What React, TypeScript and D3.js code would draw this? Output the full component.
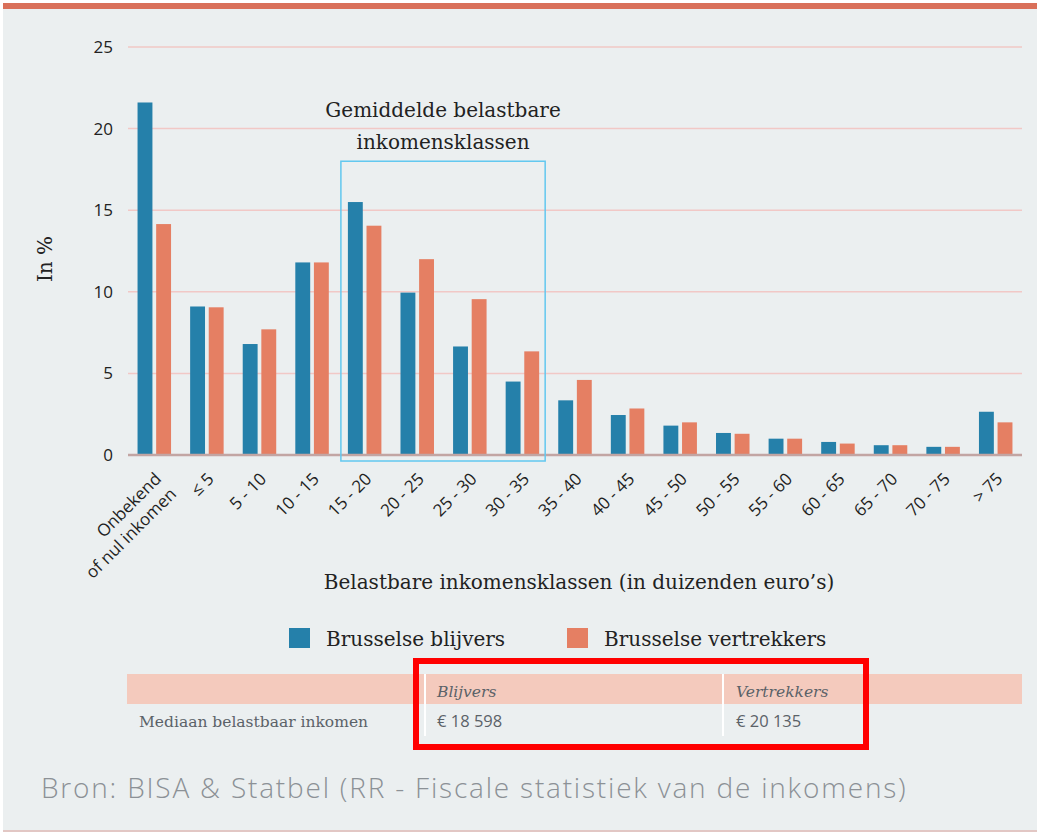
import * as d3 from "d3";
import React from "react";

// income classes (in thousands of euro)
const categories = [
  "Onbekend|of nul inkomen",
  "≤ 5",
  "5 - 10",
  "10 - 15",
  "15 - 20",
  "20 - 25",
  "25 - 30",
  "30 - 35",
  "35 - 40",
  "40 - 45",
  "45 - 50",
  "50 - 55",
  "55 - 60",
  "60 - 65",
  "65 - 70",
  "70 - 75",
  "> 75",
];

// share in %
const blijvers = [21.6, 9.1, 6.8, 11.8, 15.5, 9.95, 6.65, 4.5, 3.35, 2.45, 1.8, 1.35, 1.0, 0.8, 0.6, 0.5, 2.65];
const vertrekkers = [14.15, 9.05, 7.7, 11.8, 14.05, 12.0, 9.55, 6.35, 4.6, 2.85, 2.0, 1.3, 1.0, 0.7, 0.6, 0.5, 2.0];

const series = ["Brusselse blijvers", "Brusselse vertrekkers"];
const yTicks = [0, 5, 10, 15, 20, 25];

// highlighted classes
const highlightFrom = "15 - 20";
const highlightTo = "30 - 35";
const highlightTop = 18;

const tableHeads = ["Blijvers", "Vertrekkers"];
const tableRowLabel = "Mediaan belastbaar inkomen";
const tableValues = ["€ 18 598", "€ 20 135"];

const sourceText = "Bron: BISA & Statbel (RR - Fiscale statistiek van de inkomens)";

const W = 1037;
const H = 832;
const BLUE = "#2580aa";
const ORANGE = "#e57f63";
const SERIF = "'DejaVu Serif', serif";
const SANS = "'Open Sans', sans-serif";

const App = (): React.ReactElement => {
  const plot = { left: 128, right: 1022, top: 47, bottom: 455 };

  const x = d3
    .scaleBand<string>()
    .domain(categories)
    .range([plot.left, plot.right])
    .paddingInner(0.363)
    .paddingOuter(0.1815);
  const xs = d3
    .scaleBand<string>()
    .domain(series)
    .range([0, x.bandwidth()])
    .paddingInner(0.2);
  const y = d3.scaleLinear().domain([0, 25]).range([plot.bottom, plot.top]);

  const colors = [BLUE, ORANGE];
  const values = [blijvers, vertrekkers];

  // box around the middle classes
  const hx0 = (x(highlightFrom) as number) - 7;
  const hx1 = (x(highlightTo) as number) + x.bandwidth() + 6;
  const hcx = (hx0 + hx1) / 2;

  return (
    <svg
      width={W}
      height={H}
      style={{ position: "absolute", left: 0, top: 0 }}
    >
      <rect x={3} y={0} width={W - 3} height={H} fill="#ebeff0" />
      <rect x={0} y={0} width={W} height={3} fill="#ffffff" />
      <rect x={3} y={3} width={W - 3} height={6} fill="#d9705a" />
      <line x1={3} x2={W} y1={H - 1} y2={H - 1} stroke="#e2c7c4" strokeWidth={2} />

      {/* grid */}
      {yTicks.map((t) => (
        <g key={t}>
          {t > 0 && (
            <line
              x1={plot.left}
              x2={plot.right}
              y1={y(t)}
              y2={y(t)}
              stroke="#f1c8c6"
              strokeWidth={1.5}
            />
          )}
          <text
            x={113}
            y={y(t)}
            dy="0.35em"
            textAnchor="end"
            fontFamily={SANS}
            fontWeight={500}
            fontSize={17}
            fill="#222"
          >
            {t}
          </text>
        </g>
      ))}

      <text
        transform={`translate(52, ${(plot.top + plot.bottom) / 2 + 8}) rotate(-90)`}
        textAnchor="middle"
        fontFamily={SERIF}
        fontSize={20}
        fill="#222"
      >
        In %
      </text>

      {/* bars */}
      {categories.map((c, i) => (
        <g key={c} transform={`translate(${x(c)}, 0)`}>
          {series.map((s, k) => (
            <rect
              key={s}
              x={xs(s)}
              y={y(values[k][i])}
              width={xs.bandwidth()}
              height={plot.bottom - y(values[k][i])}
              fill={colors[k]}
            />
          ))}
        </g>
      ))}

      <line
        x1={plot.left}
        x2={plot.right}
        y1={plot.bottom}
        y2={plot.bottom}
        stroke="#c2a5a3"
        strokeWidth={2.5}
      />

      {/* highlight box */}
      <rect
        x={hx0}
        y={y(highlightTop)}
        width={hx1 - hx0}
        height={plot.bottom + 6 - y(highlightTop)}
        fill="none"
        stroke="#62c8ef"
        strokeWidth={1.5}
      />
      <text textAnchor="middle" fontFamily={SERIF} fontSize={20} fill="#222">
        <tspan x={hcx} y={117}>
          Gemiddelde belastbare
        </tspan>
        <tspan x={hcx} y={149}>
          inkomensklassen
        </tspan>
      </text>

      {/* x tick labels */}
      {categories.map((c) => {
        const cx = (x(c) as number) + x.bandwidth() / 2;
        const lines = c.split("|");
        return (
          <text
            key={c}
            transform={`translate(${cx + 8}, 480) rotate(-45)`}
            textAnchor="end"
            fontFamily={SANS}
            fontWeight={500}
            fontSize={17}
            fill="#1f1f1f"
          >
            {lines.map((l, j) => (
              <tspan key={l} x={0} dy={j === 0 ? 0 : "1.25em"}>
                {l}
              </tspan>
            ))}
          </text>
        );
      })}

      <text
        x={579}
        y={589}
        textAnchor="middle"
        fontFamily={SERIF}
        fontSize={20}
        fill="#222"
      >
        Belastbare inkomensklassen (in duizenden euro’s)
      </text>

      {/* legend */}
      {series.map((s, k) => {
        const lx = k === 0 ? 289 : 567;
        return (
          <g key={s}>
            <rect x={lx} y={628} width={21} height={20} fill={colors[k]} />
            <text
              x={lx + 37}
              y={646}
              fontFamily={SERIF}
              fontSize={20}
              fill="#222"
            >
              {s}
            </text>
          </g>
        );
      })}

      {/* median table */}
      <rect x={127} y={674} width={895} height={30} fill="#f4cabd" />
      {[425, 723].map((sx) => (
        <line key={sx} x1={sx} x2={sx} y1={674} y2={736} stroke="#ffffff" strokeWidth={2} />
      ))}
      {tableHeads.map((h, k) => (
        <text
          key={h}
          x={k === 0 ? 437 : 736}
          y={697}
          fontFamily={SERIF}
          fontStyle="italic"
          fontSize={15.5}
          fill="#5b6268"
        >
          {h}
        </text>
      ))}
      <text x={139} y={727} fontFamily={SERIF} fontSize={15.5} fill="#5b6268">
        {tableRowLabel}
      </text>
      {tableValues.map((v, k) => (
        <text
          key={v}
          x={k === 0 ? 437 : 736}
          y={727}
          fontFamily={SANS}
          fontSize={16.5}
          fill="#5b6268"
        >
          {v}
        </text>
      ))}
      <rect
        x={416}
        y={661}
        width={450}
        height={86}
        fill="none"
        stroke="#ff0000"
        strokeWidth={6}
      />

      <text
        x={41}
        y={798}
        fontFamily={SANS}
        fontWeight={300}
        fontSize={28}
        letterSpacing={1.8}
        fill="#8c9196"
      >
        {sourceText}
      </text>
    </svg>
  );
};

export default App;
